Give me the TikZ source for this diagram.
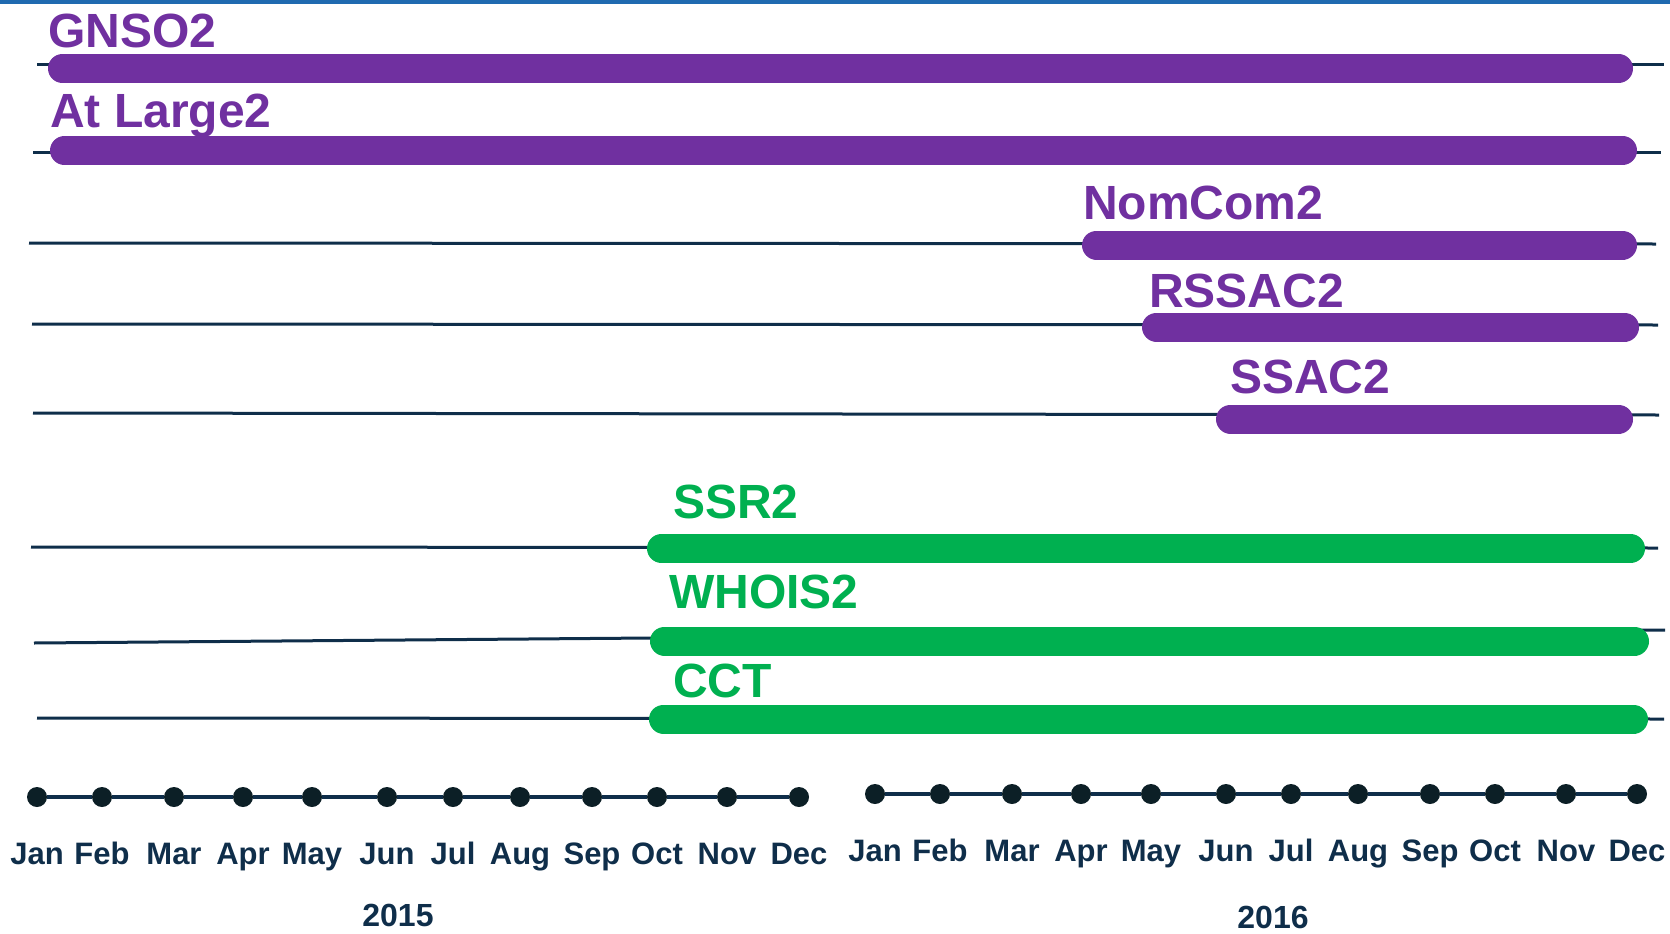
\documentclass[tikz,border=0pt]{standalone}
\usepackage{fontspec}
\setmainfont{Liberation Sans}
\definecolor{tlpurple}{HTML}{7030A0}
\definecolor{tlgreen}{HTML}{00B050}
\definecolor{tlnavy}{HTML}{0F2E4A}
\definecolor{tldot}{HTML}{0C1F26}
\definecolor{tlblue}{HTML}{1F6AB0}
\begin{document}
\begin{tikzpicture}[x=1pt,y=-1pt,
  track/.style={line width=3pt, draw=tlnavy},
  pbar/.style={line width=29pt, line cap=round, draw=tlpurple},
  gbar/.style={line width=29pt, line cap=round, draw=tlgreen},
  plabel/.style={anchor=base west, inner sep=0pt, text=tlpurple, font=\fontsize{48}{52}\selectfont\bfseries},
  glabel/.style={anchor=base west, inner sep=0pt, text=tlgreen, font=\fontsize{48}{52}\selectfont\bfseries},
  dotnode/.style={circle, fill=tldot, minimum size=20pt, inner sep=0pt},
  axisline/.style={line width=4pt, draw=tlnavy},
  month/.style={anchor=base, inner sep=0pt, text=tlnavy, font=\fontsize{31}{34}\selectfont\bfseries},
  year/.style={anchor=base, inner sep=0pt, text=tlnavy, font=\fontsize{32}{36}\selectfont\bfseries}]
\useasboundingbox (0,0) rectangle (1670,934);
\fill[tlblue] (0,0) rectangle (1670,4);

% thin tracks
\coordinate (t1a) at (37,65);   \coordinate (t1b) at (1664,65);
\coordinate (t2a) at (33,152);  \coordinate (t2b) at (1661,152);
\coordinate (t3a) at (29,243);  \coordinate (t3b) at (1656,244);
\coordinate (t4a) at (32,324);  \coordinate (t4b) at (1658,325);
\coordinate (t5a) at (33,413);  \coordinate (t5b) at (1659,415);
\coordinate (t6a) at (31,547);  \coordinate (t6b) at (1658,548);
\coordinate (t7a) at (34,643);  \coordinate (t7m) at (651,638); \coordinate (t7b) at (1665,630);
\coordinate (t8a) at (37,718);  \coordinate (t8b) at (1664,719);
\draw[track] (t1a) -- (t1b);
\draw[track] (t2a) -- (t2b);
\draw[track] (t3a) -- (t3b);
\draw[track] (t4a) -- (t4b);
\draw[track] (t5a) -- (t5b);
\draw[track] (t6a) -- (t6b);
\draw[track] (t7a) -- (t7m) -- (t7b);
\draw[track] (t8a) -- (t8b);

% bars
\coordinate (b1a) at (62.5,68.5);  \coordinate (b1b) at (1618.5,68.5);
\coordinate (b2a) at (64.5,150.5); \coordinate (b2b) at (1622.5,150.5);
\coordinate (b3a) at (1096.5,245); \coordinate (b3b) at (1622.5,245);
\coordinate (b4a) at (1156.5,327); \coordinate (b4b) at (1624.5,327);
\coordinate (b5a) at (1230.5,419); \coordinate (b5b) at (1618.5,419);
\coordinate (b6a) at (661.5,548.5); \coordinate (b6b) at (1630.5,548.5);
\coordinate (b7a) at (664.5,641);  \coordinate (b7b) at (1634.5,641);
\coordinate (b8a) at (663.5,719);  \coordinate (b8b) at (1633.5,719);
\draw[pbar] (b1a) -- (b1b);
\draw[pbar] (b2a) -- (b2b);
\draw[pbar] (b3a) -- (b3b);
\draw[pbar] (b4a) -- (b4b);
\draw[pbar] (b5a) -- (b5b);
\draw[gbar] (b6a) -- (b6b);
\draw[gbar] (b7a) -- (b7b);
\draw[gbar] (b8a) -- (b8b);

% labels
\node[plabel] (gnso) at (48,48) {GNSO2};
\node[plabel] (atlarge) at (50,127) {At Large2};
\node[plabel] (nomcom) at (1083,219) {NomCom2};
\node[plabel] (rssac) at (1149,307) {RSSAC2};
\node[plabel] (ssac) at (1230,393) {SSAC2};
\node[glabel] (ssr) at (673,518) {SSR2};
\node[glabel] (whois) at (669,608) {WHOIS2};
\node[glabel] (cct) at (673,697) {CCT};

% timeline 2015
\foreach \x [count=\i] in {37,102,174,243,312,387,453,520,592,657,727,799}
  \node[dotnode] (da\i) at (\x,797) {};
\foreach \i [evaluate=\i as \j using int(\i+1)] in {1,...,11}
  \draw[axisline] (da\i) -- (da\j);
\foreach \m [count=\i] in {Jan,Feb,Mar,Apr,May,Jun,Jul,Aug,Sep,Oct,Nov,Dec}
  \node[month] (ma\i) at ([yshift=-67pt]da\i.center) {\m};
\node[year] (y2015) at (398,926) {2015};

% timeline 2016
\foreach \x [count=\i] in {875,940,1012,1081,1151,1226,1291,1358,1430,1495,1566,1637}
  \node[dotnode] (db\i) at (\x,794) {};
\foreach \i [evaluate=\i as \j using int(\i+1)] in {1,...,11}
  \draw[axisline] (db\i) -- (db\j);
\foreach \m [count=\i] in {Jan,Feb,Mar,Apr,May,Jun,Jul,Aug,Sep,Oct,Nov,Dec}
  \node[month] (mb\i) at ([yshift=-67pt]db\i.center) {\m};
\node[year] (y2016) at (1273,928) {2016};
\end{tikzpicture}
\end{document}
